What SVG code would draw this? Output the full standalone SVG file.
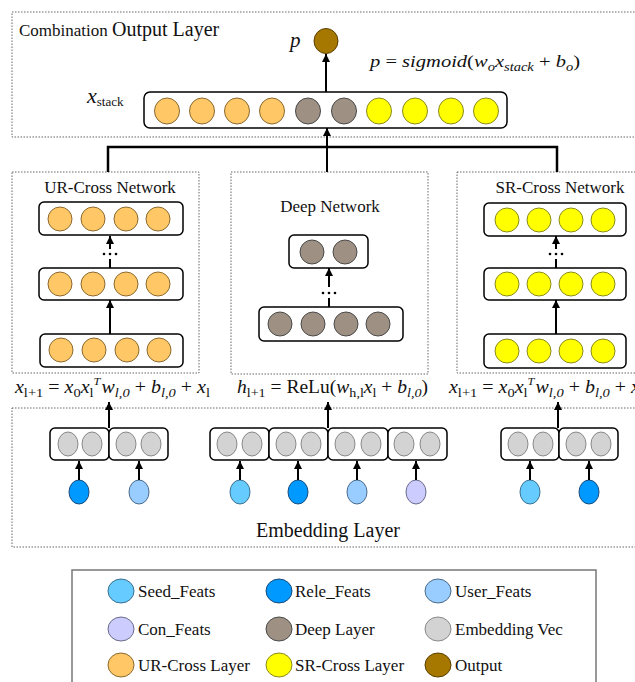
<svg xmlns="http://www.w3.org/2000/svg" width="635" height="682" viewBox="0 0 635 682">
<defs>
<marker id="ah" viewBox="0 0 10 10" refX="10" refY="5" markerWidth="9" markerHeight="8" markerUnits="userSpaceOnUse" orient="auto">
<path d="M0,0 L10,5 L0,10 z" fill="#000"/>
</marker>
<style>
.dotbox{fill:none;stroke:#666;stroke-width:1;stroke-dasharray:1.5 1.5}
.row{fill:#fff;stroke:#000;stroke-width:1.5}
.ur{fill:#FFC766;stroke:#8a6a30;stroke-width:1}
.sr{fill:#FFFF00;stroke:#8a8a20;stroke-width:1}
.dp{fill:#9E9083;stroke:#4a4a4a;stroke-width:1}
.em{fill:#D3D3D3;stroke:#888;stroke-width:1}
.seed{fill:#66CCFF;stroke:#3a6f8f;stroke-width:1}
.rele{fill:#0099FF;stroke:#1a4a7a;stroke-width:1}
.user{fill:#99CCFF;stroke:#4a6a8a;stroke-width:1}
.con{fill:#CCCCFF;stroke:#6a6a8a;stroke-width:1}
.out{fill:#A67800;stroke:#5a4000;stroke-width:1}
.conn{fill:none;stroke:#000;stroke-width:2}
.bus{fill:none;stroke:#000;stroke-width:2.5}
.t{font-family:"Liberation Serif","Times New Roman",serif;fill:#111}
.m{font-family:"Liberation Serif","Times New Roman",serif;font-style:italic;fill:#111}
.up{font-style:normal}
</style>
</defs>

<g id="output-layer">
<rect class="dotbox" x="12" y="12" width="640" height="125"/>
<text class="t" x="19" y="36"><tspan font-size="17">Combination </tspan><tspan font-size="20">Output Layer</tspan></text>
<text class="m" x="290" y="47" font-size="21">p</text>
<ellipse class="out" cx="326" cy="41" rx="12" ry="12.5"/>
<text class="m" x="370" y="67" font-size="17" textLength="210" lengthAdjust="spacingAndGlyphs">p <tspan class="up">=</tspan> sigmoid<tspan class="up">(</tspan>w<tspan font-size="12" dy="4">o</tspan><tspan dy="-4">x</tspan><tspan font-size="12" dy="4">stack</tspan><tspan dy="-4" class="up"> + </tspan>b<tspan font-size="12" dy="4">o</tspan><tspan dy="-4" class="up">)</tspan></text>
<text class="m" x="87" y="103" font-size="22">x<tspan class="up" font-size="13" dy="3">stack</tspan></text>
</g>

<g id="x-stack">
<rect class="row" x="144" y="92" width="363" height="36" rx="6"/>
<ellipse class="ur" cx="167" cy="111" rx="12.5" ry="13"/>
<ellipse class="ur" cx="202" cy="111" rx="12.5" ry="13"/>
<ellipse class="ur" cx="237" cy="111" rx="12.5" ry="13"/>
<ellipse class="ur" cx="272" cy="111" rx="12.5" ry="13"/>
<ellipse class="dp" cx="308" cy="111" rx="12.5" ry="13"/>
<ellipse class="dp" cx="344" cy="111" rx="12.5" ry="13"/>
<ellipse class="sr" cx="379" cy="111" rx="12.5" ry="13"/>
<ellipse class="sr" cx="415" cy="111" rx="12.5" ry="13"/>
<ellipse class="sr" cx="451" cy="111" rx="12.5" ry="13"/>
<ellipse class="sr" cx="486" cy="111" rx="12.5" ry="13"/>
</g>

<g id="ur-cross-network">
<rect class="dotbox" x="12" y="172" width="187" height="201"/>
<text class="t" x="110" y="193" font-size="17" text-anchor="middle">UR-Cross Network</text>
<rect class="row" x="39" y="202" width="144" height="33" rx="5"/>
<circle class="ur" cx="60" cy="219" r="12"/><circle class="ur" cx="93" cy="219" r="12"/><circle class="ur" cx="126" cy="219" r="12"/><circle class="ur" cx="158" cy="219" r="12"/>
<rect class="row" x="39" y="268" width="144" height="32" rx="5"/>
<circle class="ur" cx="60" cy="284" r="12"/><circle class="ur" cx="93" cy="284" r="12"/><circle class="ur" cx="126" cy="284" r="12"/><circle class="ur" cx="158" cy="284" r="12"/>
<rect class="row" x="40" y="334" width="143" height="33" rx="5"/>
<circle class="ur" cx="61" cy="350" r="12"/><circle class="ur" cx="94" cy="350" r="12"/><circle class="ur" cx="127" cy="350" r="12"/><circle class="ur" cx="159" cy="350" r="12"/>
</g>

<g id="deep-network">
<rect class="dotbox" x="231" y="172" width="197" height="202"/>
<text class="t" x="330" y="212" font-size="17" text-anchor="middle">Deep Network</text>
<rect class="row" x="289" y="235" width="79" height="33" rx="5"/>
<circle class="dp" cx="312" cy="252" r="12"/><circle class="dp" cx="345" cy="252" r="12"/>
<rect class="row" x="259" y="307" width="144" height="34" rx="5"/>
<circle class="dp" cx="280" cy="324" r="12"/><circle class="dp" cx="313" cy="324" r="12"/><circle class="dp" cx="346" cy="324" r="12"/><circle class="dp" cx="378" cy="324" r="12"/>
</g>

<g id="sr-cross-network">
<rect class="dotbox" x="457" y="172" width="200" height="201"/>
<text class="t" x="560" y="193" font-size="17" text-anchor="middle">SR-Cross Network</text>
<rect class="row" x="484" y="203" width="142" height="33" rx="5"/>
<circle class="sr" cx="507" cy="220" r="12"/><circle class="sr" cx="539" cy="220" r="12"/><circle class="sr" cx="571" cy="220" r="12"/><circle class="sr" cx="603" cy="220" r="12"/>
<rect class="row" x="484" y="268" width="142" height="32" rx="5"/>
<circle class="sr" cx="507" cy="284" r="12"/><circle class="sr" cx="539" cy="284" r="12"/><circle class="sr" cx="571" cy="284" r="12"/><circle class="sr" cx="603" cy="284" r="12"/>
<rect class="row" x="484" y="334" width="142" height="34" rx="5"/>
<circle class="sr" cx="507" cy="351" r="12"/><circle class="sr" cx="539" cy="351" r="12"/><circle class="sr" cx="571" cy="351" r="12"/><circle class="sr" cx="603" cy="351" r="12"/>
</g>

<g id="formulas">
<text class="m" x="15" y="393" font-size="18" textLength="195" lengthAdjust="spacingAndGlyphs">x<tspan class="up" font-size="13" dy="4">l+1</tspan><tspan class="up" dy="-4"> = </tspan>x<tspan class="up" font-size="13" dy="4">0</tspan><tspan dy="-4">x</tspan><tspan class="up" font-size="13" dy="4">l</tspan><tspan font-size="11" dx="0" dy="-12">T</tspan><tspan dy="8" dx="1">w</tspan><tspan font-size="13" dy="4">l,0</tspan><tspan class="up" dy="-4"> + </tspan>b<tspan font-size="13" dy="4">l,0</tspan><tspan class="up" dy="-4"> + </tspan>x<tspan class="up" font-size="13" dy="4">l</tspan></text>
<text class="m" x="237" y="393" font-size="18" textLength="191" lengthAdjust="spacingAndGlyphs">h<tspan class="up" font-size="13" dy="4">l+1</tspan><tspan class="up" dy="-4"> = ReLu(</tspan>w<tspan class="up" font-size="13" dy="4">h,l</tspan><tspan dy="-4">x</tspan><tspan class="up" font-size="13" dy="4">l</tspan><tspan class="up" dy="-4"> + </tspan>b<tspan font-size="13" dy="4">l,0</tspan><tspan class="up" dy="-4">)</tspan></text>
<text class="m" x="449" y="393" font-size="18" textLength="195" lengthAdjust="spacingAndGlyphs">x<tspan class="up" font-size="13" dy="4">l+1</tspan><tspan class="up" dy="-4"> = </tspan>x<tspan class="up" font-size="13" dy="4">0</tspan><tspan dy="-4">x</tspan><tspan class="up" font-size="13" dy="4">l</tspan><tspan font-size="11" dx="0" dy="-12">T</tspan><tspan dy="8" dx="1">w</tspan><tspan font-size="13" dy="4">l,0</tspan><tspan class="up" dy="-4"> + </tspan>b<tspan font-size="13" dy="4">l,0</tspan><tspan class="up" dy="-4"> + </tspan>x<tspan class="up" font-size="13" dy="4">l</tspan></text>
</g>

<g id="embedding-layer">
<rect class="dotbox" x="12" y="408" width="640" height="139"/>
<text class="t" x="328" y="537" font-size="20" text-anchor="middle">Embedding Layer</text>
<rect class="row" x="50" y="428" width="59" height="32" rx="5"/><rect class="row" x="109" y="428" width="59" height="32" rx="5"/>
<ellipse class="em" cx="68" cy="444" rx="10" ry="12"/><ellipse class="em" cx="92" cy="444" rx="10" ry="12"/><ellipse class="em" cx="126" cy="444" rx="10" ry="12"/><ellipse class="em" cx="151" cy="444" rx="10" ry="12"/>
<rect class="row" x="210" y="428" width="59" height="32" rx="5"/><rect class="row" x="269" y="428" width="59" height="32" rx="5"/><rect class="row" x="328" y="428" width="60" height="32" rx="5"/><rect class="row" x="388" y="428" width="59" height="32" rx="5"/>
<ellipse class="em" cx="227" cy="444" rx="10" ry="12"/><ellipse class="em" cx="252" cy="444" rx="10" ry="12"/><ellipse class="em" cx="286" cy="444" rx="10" ry="12"/><ellipse class="em" cx="311" cy="444" rx="10" ry="12"/><ellipse class="em" cx="345" cy="444" rx="10" ry="12"/><ellipse class="em" cx="371" cy="444" rx="10" ry="12"/><ellipse class="em" cx="404" cy="444" rx="10" ry="12"/><ellipse class="em" cx="430" cy="444" rx="10" ry="12"/>
<rect class="row" x="501" y="428" width="58" height="32" rx="5"/><rect class="row" x="559" y="428" width="59" height="32" rx="5"/>
<ellipse class="em" cx="518" cy="444" rx="10" ry="12"/><ellipse class="em" cx="543" cy="444" rx="10" ry="12"/><ellipse class="em" cx="576" cy="444" rx="10" ry="12"/><ellipse class="em" cx="601" cy="444" rx="10" ry="12"/>
<ellipse class="rele" cx="79" cy="492" rx="10" ry="12"/>
<ellipse class="user" cx="139" cy="492" rx="10" ry="12"/>
<ellipse class="seed" cx="240" cy="492" rx="10" ry="12"/>
<ellipse class="rele" cx="298" cy="492" rx="10" ry="12"/>
<ellipse class="user" cx="357" cy="492" rx="10" ry="12"/>
<ellipse class="con" cx="416" cy="492" rx="10" ry="12"/>
<ellipse class="seed" cx="530" cy="492" rx="10" ry="12"/>
<ellipse class="rele" cx="589" cy="492" rx="10" ry="12"/>
</g>

<g id="connectors">
<line class="conn" x1="326" y1="92" x2="326" y2="54" marker-end="url(#ah)"/>
<polyline class="bus" points="108,172 108,147 557,147 557,172"/>
<line class="conn" x1="327" y1="172" x2="327" y2="128" marker-end="url(#ah)"/>
<line class="conn" x1="110" y1="334" x2="110" y2="300" marker-end="url(#ah)"/>
<line class="conn" x1="110" y1="268" x2="110" y2="259"/>
<line class="conn" x1="110" y1="249" x2="110" y2="236" marker-end="url(#ah)"/>
<circle cx="104" cy="254" r="1.3"/><circle cx="110" cy="254" r="1.3"/><circle cx="116" cy="254" r="1.3"/>
<line class="conn" x1="329" y1="307" x2="329" y2="298"/>
<line class="conn" x1="329" y1="287" x2="329" y2="268" marker-end="url(#ah)"/>
<circle cx="323" cy="293" r="1.3"/><circle cx="329" cy="293" r="1.3"/><circle cx="335" cy="293" r="1.3"/>
<line class="conn" x1="556" y1="334" x2="556" y2="300" marker-end="url(#ah)"/>
<line class="conn" x1="556" y1="268" x2="556" y2="259"/>
<line class="conn" x1="556" y1="249" x2="556" y2="236" marker-end="url(#ah)"/>
<circle cx="550" cy="254" r="1.3"/><circle cx="556" cy="254" r="1.3"/><circle cx="562" cy="254" r="1.3"/>
<line class="conn" x1="109" y1="428" x2="109" y2="402" marker-end="url(#ah)"/>
<line class="conn" x1="328" y1="428" x2="328" y2="402" marker-end="url(#ah)"/>
<line class="conn" x1="558" y1="428" x2="558" y2="402" marker-end="url(#ah)"/>
<line class="conn" x1="79" y1="480" x2="79" y2="461" marker-end="url(#ah)"/>
<line class="conn" x1="139" y1="480" x2="139" y2="461" marker-end="url(#ah)"/>
<line class="conn" x1="240" y1="480" x2="240" y2="461" marker-end="url(#ah)"/>
<line class="conn" x1="298" y1="480" x2="298" y2="461" marker-end="url(#ah)"/>
<line class="conn" x1="357" y1="480" x2="357" y2="461" marker-end="url(#ah)"/>
<line class="conn" x1="416" y1="480" x2="416" y2="461" marker-end="url(#ah)"/>
<line class="conn" x1="530" y1="480" x2="530" y2="461" marker-end="url(#ah)"/>
<line class="conn" x1="589" y1="480" x2="589" y2="461" marker-end="url(#ah)"/>
</g>

<g id="legend">
<rect x="72" y="570" width="524" height="120" fill="#fff" stroke="#777" stroke-width="1.5"/>
<ellipse class="seed" cx="121" cy="591" rx="13" ry="12"/><text class="t" x="138" y="597" font-size="17">Seed_Feats</text>
<ellipse class="rele" cx="279" cy="591" rx="13" ry="12"/><text class="t" x="295" y="597" font-size="17">Rele_Feats</text>
<ellipse class="user" cx="438" cy="591" rx="13" ry="12"/><text class="t" x="455" y="597" font-size="17">User_Feats</text>
<ellipse class="con" cx="121" cy="629" rx="13" ry="12"/><text class="t" x="138" y="635" font-size="17">Con_Feats</text>
<ellipse class="dp" cx="279" cy="629" rx="13" ry="12"/><text class="t" x="295" y="635" font-size="17">Deep Layer</text>
<ellipse class="em" cx="438" cy="629" rx="13" ry="12"/><text class="t" x="455" y="635" font-size="17">Embedding Vec</text>
<ellipse class="ur" cx="121" cy="665" rx="13" ry="12"/><text class="t" x="138" y="671" font-size="17">UR-Cross Layer</text>
<ellipse class="sr" cx="279" cy="665" rx="13" ry="12"/><text class="t" x="295" y="671" font-size="17">SR-Cross Layer</text>
<ellipse class="out" cx="438" cy="665" rx="13" ry="12"/><text class="t" x="455" y="671" font-size="17">Output</text>
</g>
</svg>
